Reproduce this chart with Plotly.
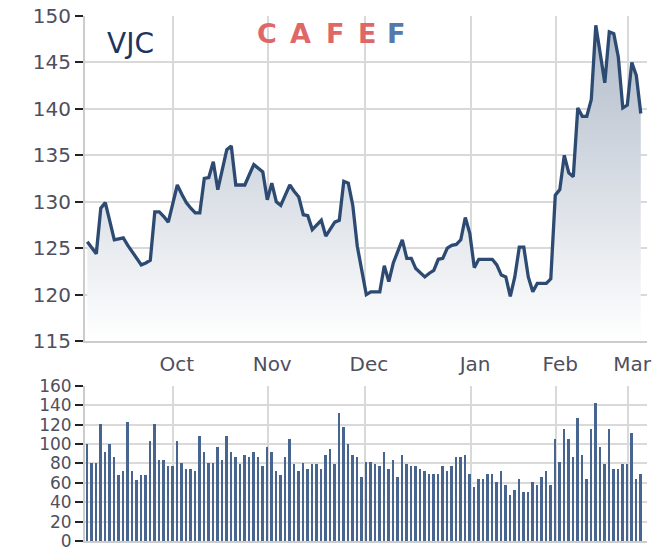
import plotly.graph_objects as go

# ---- data ----
price = [125.7, 125.0, 124.4, 129.3, 129.9, 127.9, 125.9, 126.0, 126.1, 125.3,
         124.6, 123.9, 123.2, 123.4, 123.7, 128.9, 128.9, 128.4, 127.8, 129.8,
         131.8, 130.8, 129.9, 129.3, 128.8, 128.8, 132.5, 132.6, 134.3, 131.3,
         133.4, 135.6, 136.0, 131.8, 131.8, 131.8, 132.9, 134.0, 133.6, 133.2,
         130.2, 132.0, 130.0, 129.6, 130.7, 131.8, 131.1, 130.5, 128.6, 128.5,
         127.0, 127.5, 128.0, 126.3, 127.1, 127.8, 128.0, 132.2, 132.0, 129.6,
         125.2, 122.6, 120.0, 120.3, 120.3, 120.3, 123.1, 121.4, 123.4, 124.6,
         125.9, 123.9, 123.9, 122.8, 122.4, 121.9, 122.3, 122.6, 123.8, 123.9,
         125.0, 125.3, 125.4, 125.9, 128.3, 126.6, 122.9, 123.8, 123.8, 123.8,
         123.8, 123.2, 122.1, 121.9, 119.8, 121.9, 125.1, 125.1, 121.9, 120.3,
         121.2, 121.2, 121.2, 121.7, 130.7, 131.3, 135.0, 133.1, 132.7, 140.1,
         139.2, 139.2, 141.0, 149.0, 145.9, 142.8, 148.3, 148.1, 145.6, 140.1,
         140.4, 145.0, 143.6, 139.5]

volume = [100, 81, 81, 121, 92, 100, 87, 68, 72, 123, 72, 63, 68, 68, 103, 121, 84, 84,
          77, 77, 103, 81, 74, 74, 72, 108, 92, 81, 81, 97, 84, 108, 92, 87, 79, 89,
          87, 92, 87, 77, 97, 92, 72, 68, 87, 105, 79, 72, 81, 74, 79, 79, 74, 89,
          95, 79, 132, 118, 100, 89, 87, 66, 82, 82, 79, 77, 92, 74, 84, 66, 89, 79,
          77, 77, 74, 72, 69, 69, 69, 77, 72, 77, 87, 87, 89, 69, 56, 64, 64, 69,
          69, 61, 72, 58, 47, 53, 64, 51, 51, 61, 58, 66, 72, 58, 105, 82, 116, 105,
          87, 127, 89, 64, 116, 142, 97, 79, 116, 74, 74, 79, 79, 111, 64, 69]

month_labels = ["Oct", "Nov", "Dec", "Jan", "Feb", "Mar"]
month_pos = [19.0, 40.2, 61.7, 85.3, 104.2, 120.2]   # session index where month starts

price_ticks = [115, 120, 125, 130, 135, 140, 145, 150]
volume_ticks = [0, 20, 40, 60, 80, 100, 120, 140, 160]

ticker = "VJC"

days = list(range(len(price)))

# ---- styling ----
LINE = "#2d4b72"
BAR = "#48658f"
GRID = "#d9d9d9"
LABEL = "#4f4f5e"
FONT = "DejaVu Sans"

fig = go.Figure()

fig.add_trace(go.Scatter(
    x=days, y=price, mode="lines",
    line=dict(color=LINE, width=3.3),
    fill="tozeroy",
    fillgradient=dict(type="vertical", start=115, stop=150,
                      colorscale=[[0, "rgba(255,255,255,1)"], [1, "#aeb9c8"]]),
    xaxis="x", yaxis="y", showlegend=False, hoverinfo="skip",
))

fig.add_trace(go.Bar(
    x=days, y=volume, width=0.36,
    marker=dict(color=BAR, line=dict(width=0)),
    xaxis="x2", yaxis="y2", showlegend=False, hoverinfo="skip",
))

xr = [-0.51, 124.38]
common_x = dict(range=xr, tickvals=month_pos, showgrid=True, gridcolor=GRID,
                gridwidth=2, zeroline=False, ticks="", fixedrange=True,
                automargin=False)

fig.update_layout(
    template="none",
    width=660, height=558,
    margin=dict(l=85, r=13, t=16, b=17, autoexpand=False),
    paper_bgcolor="white", plot_bgcolor="white",
    font=dict(family=FONT, color=LABEL, size=20),
    xaxis=dict(**common_x, domain=[0, 1], anchor="y",
               ticktext=month_labels, ticklabelshift=4, ticklabelstandoff=4,
               showline=True, linecolor="#cccccc", linewidth=2,
               tickfont=dict(size=20, color=LABEL, family=FONT)),
    yaxis=dict(domain=[0.38095, 1.0], anchor="x", range=[115, 150],
               tickvals=price_ticks, showgrid=True, gridcolor=GRID, gridwidth=2,
               zeroline=False, ticks="outside", ticklen=8, tickwidth=2,
               tickcolor="#222222", showline=True, linecolor="#cccccc", linewidth=2,
               automargin=False, fixedrange=True,
               tickfont=dict(size=20, color=LABEL, family=FONT)),
    xaxis2=dict(**common_x, domain=[0, 1], anchor="y2",
                ticktext=[""] * len(month_pos),
                showline=True, linecolor="#cccccc", linewidth=2),
    yaxis2=dict(domain=[0, 0.29524], anchor="x2", range=[0, 160],
                tickvals=volume_ticks, showgrid=True, gridcolor=GRID, gridwidth=2,
                zeroline=False, ticks="outside", ticklen=8, tickwidth=2,
                tickcolor="#222222", showline=True, linecolor="#cccccc", linewidth=2,
                automargin=False, fixedrange=True,
                tickfont=dict(size=17, color=LABEL, family=FONT)),
    bargap=0,
)

# ticker label
fig.add_annotation(x=3.9, y=147.0, xref="x", yref="y", text=ticker,
                   showarrow=False, xanchor="left", yanchor="middle",
                   font=dict(family=FONT, size=28, color="#1d3461"))

# CAFEF logo as text letters
logo_letters = ["C", "A", "F", "E", "F"]
logo_pos = [39.9, 47.3, 55.0, 62.1, 68.6]
logo_cols = ["#e06767", "#e06767", "#e06767", "#e06767", "#557aa9"]
for ch, px, col in zip(logo_letters, logo_pos, logo_cols):
    fig.add_annotation(x=px, y=148.1, xref="x", yref="y", text="<b>" + ch + "</b>",
                       showarrow=False, xanchor="center", yanchor="middle",
                       font=dict(family=FONT, size=27, color=col))

fig.write_html("out.html",
               config={"displayModeBar": False},
               post_script="document.body.style.margin='0';"
                           "document.body.style.overflow='hidden';")
